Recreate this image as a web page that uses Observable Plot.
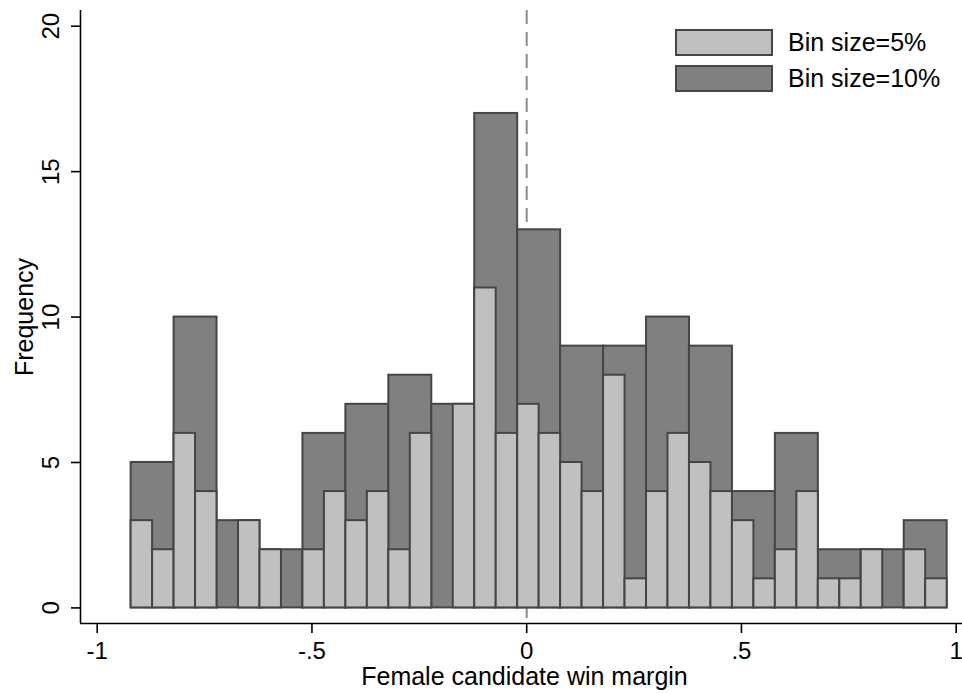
<!DOCTYPE html>
<html>
<head>
<meta charset="utf-8">
<script src="https://cdn.jsdelivr.net/npm/d3@7"></script>
<script src="https://cdn.jsdelivr.net/npm/@observablehq/plot@0.6"></script>
<style>
  body { margin: 0; background: white; }
  #wrap { position: relative; width: 962px; height: 693px; font-family: "Liberation Sans", Arial, Helvetica, sans-serif; }
  .legend { position: absolute; left: 675px; top: 29px; }
  .row { display: flex; align-items: center; height: 27px; margin-bottom: 9px; }
  .box { box-sizing: border-box; width: 98px; height: 27px; border: 2px solid #454545; }
  .lab { margin-left: 15px; font-size: 25px; color: #000; line-height: 27px; }
</style>
</head>
<body>
<div id="wrap"></div>
<script>
// ---- data ----
const binStart = -0.921;          // left edge of first bin
const width10 = 0.10;             // bin width, 10%
const width5 = 0.05;              // bin width, 5%
const counts10 = [5, 10, 3, 2, 6, 7, 8, 7, 17, 13, 9, 9, 10, 9, 4, 6, 2, 2, 3];
const counts5 = [3, 2, 6, 4, 0, 3, 2, 0, 2, 4, 3, 4, 2, 6, 0, 7, 11, 6, 7, 6,
                 5, 4, 8, 1, 4, 6, 5, 4, 3, 1, 2, 4, 1, 1, 2, 0, 2, 1];
const xTicks = [-1, -0.5, 0, 0.5, 1];
const yTicks = [0, 5, 10, 15, 20];
const seriesLabels = ["Bin size=5%", "Bin size=10%"];
const xLabel = "Female candidate win margin";
const yLabel = "Frequency";

const lightFill = "#c0c0c0", darkFill = "#808080", edge = "#454545";

const bins10 = counts10.map((c, i) => ({x1: binStart + i * width10, x2: binStart + (i + 1) * width10, count: c}));
const bins5 = counts5.map((c, i) => ({x1: binStart + i * width5, x2: binStart + (i + 1) * width5, count: c}))
  .filter(d => d.count > 0);

const xDomain = [-1.0389, 1.0147];
const yDomain = [-0.536, 20.54];
const fmtX = d => d === 0 ? "0" : String(d).replace("0.", ".");

const chart = Plot.plot({
  width: 962,
  height: 693,
  marginLeft: 80,
  marginRight: 0,
  marginTop: 10,
  marginBottom: 70,
  style: {fontFamily: "Liberation Sans, Arial, Helvetica, sans-serif", fontSize: "24px", background: "white", color: "black"},
  x: {domain: xDomain},
  y: {domain: yDomain},
  marks: [
    Plot.ruleX([0], {stroke: "#8a8a8a", strokeWidth: 2, strokeDasharray: "14,8"}),
    Plot.rectY(bins10, {x1: "x1", x2: "x2", y: "count", fill: darkFill, stroke: edge, strokeWidth: 2}),
    Plot.rectY(bins5, {x1: "x1", x2: "x2", y: "count", fill: lightFill, stroke: edge, strokeWidth: 2}),
    Plot.ruleY([yDomain[0]], {stroke: "#000", strokeWidth: 1.6}),
    Plot.ruleX([xDomain[0]], {stroke: "#000", strokeWidth: 1.6}),
    Plot.axisX({ticks: xTicks, tickSize: 10, tickPadding: 8, tickFormat: fmtX, fontSize: 24, label: null, strokeWidth: 1.6}),
    Plot.axisY({ticks: yTicks, tickSize: 9, tickFormat: () => "", label: null, strokeWidth: 1.6}),
    Plot.text(yTicks, {y: d => d, text: d => String(d), frameAnchor: "left", dx: -28.7, rotate: -90, textAnchor: "middle", fontSize: 24, fill: "#000"}),
    Plot.text([xLabel], {text: d => d, frameAnchor: "bottom", dx: 3, dy: 44, lineAnchor: "top", fontSize: 25, fill: "#000"}),
    Plot.text([yLabel], {text: d => d, frameAnchor: "left", dx: -56, rotate: -90, textAnchor: "middle", fontSize: 25, fill: "#000"})
  ]
});

const wrap = document.getElementById("wrap");
wrap.appendChild(chart);
const legend = document.createElement("div");
legend.className = "legend";
[[seriesLabels[0], lightFill], [seriesLabels[1], darkFill]].forEach(([t, c]) => {
  const row = document.createElement("div");
  row.className = "row";
  const box = document.createElement("div");
  box.className = "box";
  box.style.background = c;
  const lab = document.createElement("span");
  lab.className = "lab";
  lab.textContent = t;
  row.appendChild(box);
  row.appendChild(lab);
  legend.appendChild(row);
});
wrap.appendChild(legend);
</script>
</body>
</html>
